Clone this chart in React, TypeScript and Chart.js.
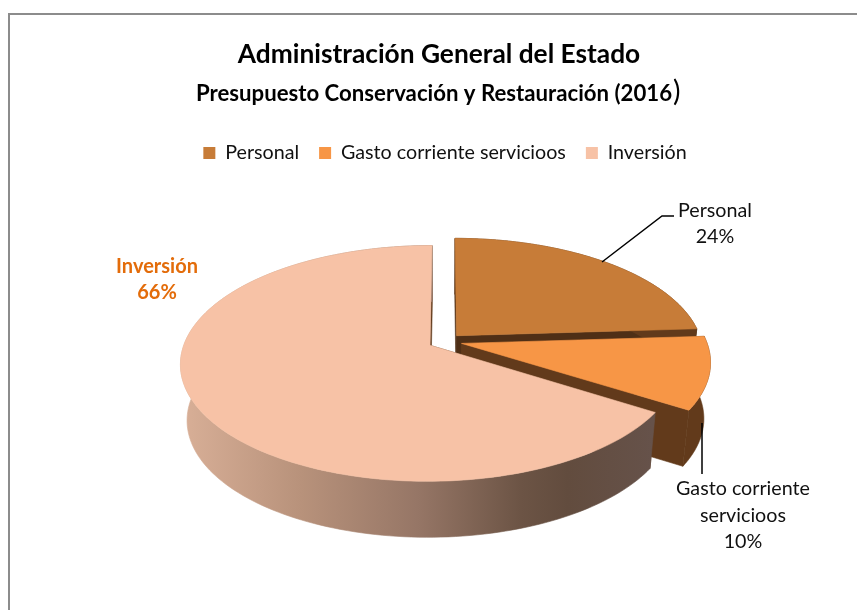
import React, { useEffect, useRef } from "react";
import { Chart, registerables } from "chart.js";

Chart.register(...registerables);

const categories = ["Personal", "Gasto corriente servicioos", "Inversión"];
const shares = [24, 10, 66];
const faceColors = ["#c77c38", "#f79646", "#f7c2a6"];
const titleText = "Administración General del Estado";
const subtitleText = "Presupuesto Conservación y Restauración (2016";

const FONT = "Lato, Carlito, Calibri, sans-serif";
const TILT = 0.465;
const PERSPECTIVE = 0.153;
const DEPTH = 56;
const TAPER = 0.025;

const pie3d = {
  id: "pie3d",
  afterLayout(chart: any) {
    for (const box of chart.boxes) {
      if (box.options && box.options.text !== undefined && box.position === "top") {
        const shift = box.options.text === subtitleText ? 11 : 6;
        box.left -= shift;
        box.right -= shift;
      }
    }
  },
  beforeDatasetsDraw(chart: any) {
    const ctx = chart.ctx as CanvasRenderingContext2D;
    const arcs = chart.getDatasetMeta(0).data;
    const first = arcs[0].getProps(["x", "y", "outerRadius"], true);
    const cx = first.x;
    const cy = first.y;
    const R = first.outerRadius;
    const project = (X: number, Y: number, z: number) => {
      const w = 1 - (PERSPECTIVE * Y) / R;
      return [cx + (X / w) * (1 - TAPER * z), cy + (TILT * Y) / w + DEPTH * z];
    };
    const fillPoly = (pts: number[][], fill: any) => {
      ctx.beginPath();
      pts.forEach((p, i) => (i ? ctx.lineTo(p[0], p[1]) : ctx.moveTo(p[0], p[1])));
      ctx.closePath();
      ctx.fillStyle = fill;
      ctx.strokeStyle = fill;
      ctx.lineWidth = 0.6;
      ctx.fill();
      ctx.stroke();
    };
    const wallFill = (i: number) => {
      if (i < 2) return "#623a1b";
      const g = ctx.createLinearGradient(183, 0, 652, 0);
      g.addColorStop(0, "#d8af97");
      g.addColorStop(0.25, "#b8927b");
      g.addColorStop(0.5, "#967666");
      g.addColorStop(0.72, "#6c5445");
      g.addColorStop(0.82, "#624c3e");
      g.addColorStop(1, "#66524a");
      return g;
    };
    arcs.forEach((arc: any, i: number) => {
      const { startAngle, endAngle } = arc.getProps(["startAngle", "endAngle"], true);
      const off = arc.options.offset || 0;
      const mid = (startAngle + endAngle) / 2;
      const ox = Math.cos(mid) * off;
      const oy = Math.sin(mid) * off;
      const rim: number[][] = [];
      const steps = 160;
      for (let s = 0; s <= steps; s++) {
        const a = startAngle + ((endAngle - startAngle) * s) / steps;
        rim.push([ox + Math.cos(a) * R, oy + Math.sin(a) * R]);
      }
      const apexTop = project(ox, oy, 0);
      const apexBot = project(ox, oy, 1);
      const startTop = project(rim[0][0], rim[0][1], 0);
      const startBot = project(rim[0][0], rim[0][1], 1);
      const endTop = project(rim[steps][0], rim[steps][1], 0);
      const endBot = project(rim[steps][0], rim[steps][1], 1);
      const cut = i === 0 ? "#4f2f16" : "#623a1b";
      fillPoly([apexTop, startTop, startBot, apexBot], cut);
      fillPoly([apexTop, endTop, endBot, apexBot], cut);
      const top = rim.map((p) => project(p[0], p[1], 0));
      const bot = rim.map((p) => project(p[0], p[1], 1)).reverse();
      fillPoly([...top, ...bot], wallFill(i));
      fillPoly([apexTop, ...top], arc.options.backgroundColor);
    });
    return false;
  },
  afterDraw(chart: any) {
    const ctx = chart.ctx as CanvasRenderingContext2D;
    ctx.save();
    ctx.strokeStyle = "#000000";
    ctx.lineWidth = 1.5;
    ctx.beginPath();
    ctx.moveTo(602, 262);
    ctx.lineTo(662, 216);
    ctx.lineTo(674, 216);
    ctx.moveTo(702, 423);
    ctx.lineTo(702, 474);
    ctx.stroke();
    ctx.textAlign = "center";
    ctx.textBaseline = "alphabetic";
    ctx.font = `19.7px ${FONT}`;
    ctx.fillStyle = "#111111";
    ctx.fillText(categories[0], 715, 217);
    ctx.fillText(`${shares[0]}%`, 715, 243);
    const [gastoA, gastoB] = [
      categories[1].split(" ").slice(0, 2).join(" "),
      categories[1].split(" ").slice(2).join(" "),
    ];
    ctx.fillText(gastoA, 743, 495);
    ctx.fillText(gastoB, 743, 522);
    ctx.fillText(`${shares[1]}%`, 743, 548);
    ctx.font = `bold 20px ${FONT}`;
    ctx.fillStyle = "#e36c0a";
    ctx.fillText(categories[2], 157, 273);
    ctx.fillText(`${shares[2]}%`, 157, 299);
    const sub = chart.boxes.find((b: any) => b.options && b.options.text === subtitleText);
    if (sub) {
      ctx.font = `bold 22.2px ${FONT}`;
      const w = ctx.measureText(subtitleText).width;
      const mid = (sub.left + sub.right) / 2;
      ctx.textAlign = "left";
      ctx.font = `28px ${FONT}`;
      ctx.fillStyle = "#000000";
      ctx.fillText(")", mid + w / 2 + 1, 101);
    }
    ctx.restore();
  },
};

export default function App() {
  const ref = useRef<HTMLCanvasElement>(null);
  useEffect(() => {
    const chart = new Chart(ref.current!, {
      type: "pie",
      data: {
        labels: categories,
        datasets: [{ data: shares, backgroundColor: faceColors, borderWidth: 0, offset: 17 } as any],
      },
      plugins: [pie3d as any],
      options: {
        animation: false,
        responsive: false,
        radius: 245,
        layout: { padding: { left: 33, right: 0, top: 36, bottom: 100 } },
        plugins: {
          title: {
            display: true,
            text: titleText,
            color: "#000000",
            font: { family: FONT, size: 26.3, weight: "bold" },
            padding: { top: 3, bottom: 6 },
          },
          subtitle: {
            display: true,
            text: subtitleText,
            color: "#000000",
            font: { family: FONT, size: 22.2, weight: "bold" },
            padding: { top: 4, bottom: 16 },
          },
          legend: {
            position: "top",
            labels: {
              boxWidth: 12,
              boxHeight: 12,
              padding: 20,
              color: "#111111",
              font: { family: FONT, size: 19.7 },
            },
          },
          tooltip: { enabled: false },
        },
      } as any,
    });
    return () => chart.destroy();
  }, []);
  return (
    <div style={{ position: "absolute", left: 0, top: 0, width: 857, height: 610, background: "#fff", overflow: "hidden" }}>
      <div style={{ position: "absolute", left: 8, top: 13, width: 849, height: 597, borderLeft: "2px solid #8c8c8c", borderTop: "2px solid #8c8c8c", boxSizing: "border-box" }} />
      <canvas ref={ref} width={857} height={610} style={{ position: "absolute", left: 0, top: 0, display: "block" }} />
    </div>
  );
}
